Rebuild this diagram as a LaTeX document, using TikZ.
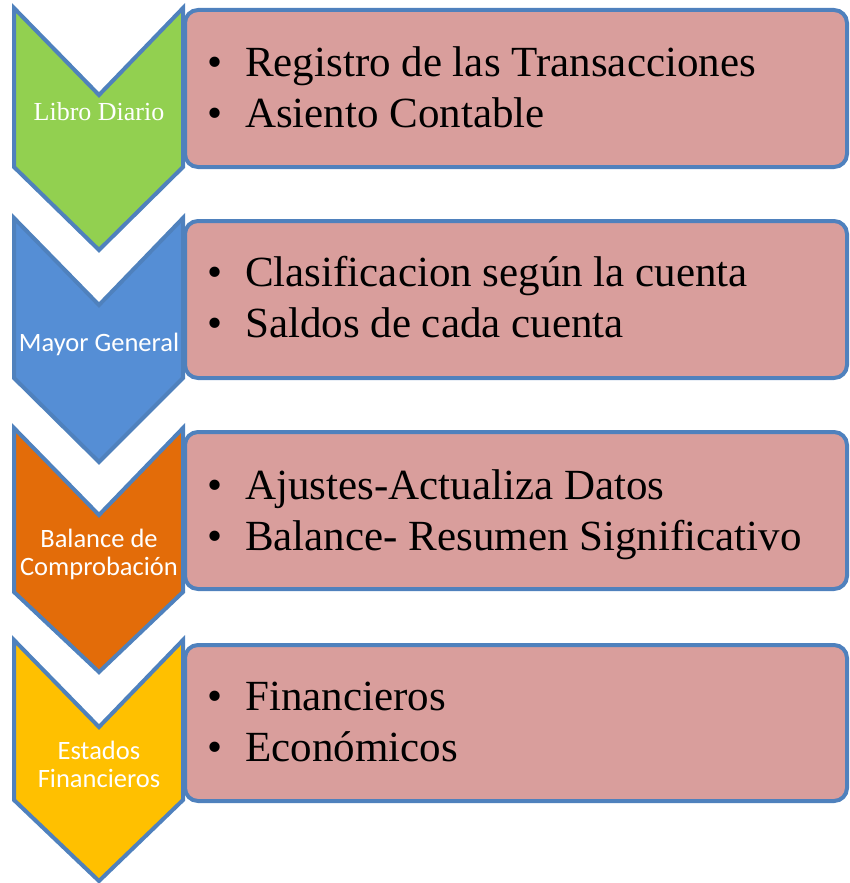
\documentclass[tikz,border=0pt]{standalone}
\usepackage{fontspec}
\setmainfont{Liberation Serif}
\newfontfamily\calibri{Carlito}
\usetikzlibrary{positioning}

\definecolor{cGreen}{HTML}{92D050}
\definecolor{cBlue}{HTML}{558ED5}
\definecolor{cOrange}{HTML}{E36C09}
\definecolor{cYellow}{HTML}{FFC000}
\definecolor{cPink}{HTML}{D99E9C}
\definecolor{cEdge}{HTML}{4F81BD}

\newcommand{\itm}[1]{\makebox[38pt][l]{\textbullet}#1}

\begin{document}
\begin{tikzpicture}[x=1pt, y=-1pt,
    chev/.style={draw=cEdge, line width=4pt, line join=miter},
    panel/.style={draw=cEdge, fill=cPink, line width=4pt, rounded corners=13pt},
    item/.style={anchor=base west, inner sep=0pt, font=\fontsize{43}{48}\selectfont},
    tag/.style={text=white, align=center, inner sep=0pt},
    sanstag/.style={tag, font=\calibri\fontsize{26.5}{28.3}\selectfont}
]
    \useasboundingbox (0,0) rectangle (849,883);

    % Panels on the right
    \draw[panel] (185,10) rectangle (847,167);
    \draw[panel] (185,221) rectangle (847,378);
    \draw[panel] (185,432) rectangle (847,589);
    \draw[panel] (185,645) rectangle (847,801);

    % Chevrons (last one first, so each tip lies over the next)
    \draw[chev, fill=cYellow] (14,640) -- (99,727) -- (183,640) -- (183,800) -- (99,881) -- (14,800) -- cycle;
    \draw[chev, fill=cOrange] (14,428) -- (99,515) -- (183,428) -- (183,592) -- (99,672) -- (14,592) -- cycle;
    \draw[chev, fill=cBlue] (14,218) -- (99,305) -- (183,218) -- (183,378) -- (99,462) -- (14,378) -- cycle;
    \draw[chev, fill=cGreen] (14,8) -- (99,95) -- (183,8) -- (183,167) -- (99,250) -- (14,167) -- cycle;

    % Chevron labels
    \node[tag, anchor=base, font=\fontsize{26}{28}\selectfont] (libro) at (99,120) {Libro Diario};
    \node[sanstag, anchor=base] (mayor) at (99,351) {Mayor General};
    \node[sanstag] (balance) at (99,554.5) {Balance de\\Comprobación};
    \node[sanstag] (estados) at (99,764.5) {Estados\\Financieros};

    % Bullet items
    \node[item] (r1a) at (207,77) {\itm{Registro de las Transacciones}};
    \node[item] (r1b) at (207,127) {\itm{Asiento Contable}};
    \node[item] (r2a) at (207,286) {\itm{Clasificacion según la cuenta}};
    \node[item] (r2b) at (207,337) {\itm{Saldos de cada cuenta}};
    \node[item] (r3a) at (207,499) {\itm{Ajustes-Actualiza Datos}};
    \node[item] (r3b) at (207,550) {\itm{Balance- Resumen Significativo}};
    \node[item] (r4a) at (207,710) {\itm{Financieros}};
    \node[item] (r4b) at (207,761) {\itm{Económicos}};
\end{tikzpicture}
\end{document}
